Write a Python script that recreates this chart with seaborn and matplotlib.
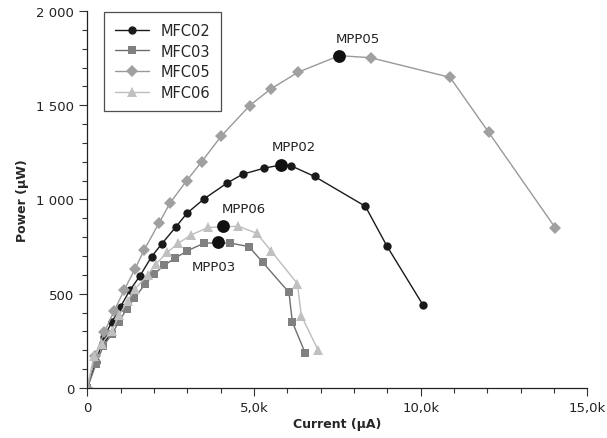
import matplotlib
matplotlib.use("Agg")
import matplotlib.pyplot as plt
import matplotlib.ticker as mticker
import seaborn as sns
import pandas as pd

# current (uA) and power (uW) per cell
mfc02_i = [0, 260, 500, 740, 1000, 1280, 1570, 1930, 2230, 2650, 2990, 3500,
           4200, 4660, 5300, 5800, 6120, 6820, 8340, 8990, 10070]
mfc02_p = [0, 140, 271, 350, 432, 520, 592, 697, 764, 853, 927, 1003,
           1088, 1134, 1166, 1183, 1178, 1122, 964, 752, 440]

mfc03_i = [0, 260, 480, 740, 950, 1180, 1410, 1730, 2000, 2300, 2630, 2990,
           3510, 4280, 4850, 5260, 6050, 6150, 6540]
mfc03_p = [0, 127, 224, 286, 352, 419, 476, 550, 603, 651, 688, 727,
           769, 769, 750, 667, 507, 350, 184]

mfc05_i = [0, 230, 510, 810, 1110, 1430, 1710, 2150, 2480, 2980, 3430, 4010,
           4870, 5500, 6320, 7560, 8500, 10880, 12040, 14040]
mfc05_p = [0, 171, 296, 410, 521, 631, 734, 874, 981, 1100, 1200, 1335,
           1498, 1586, 1675, 1763, 1752, 1648, 1356, 849]

mfc06_i = [0, 200, 430, 730, 960, 1210, 1430, 1810, 2060, 2400, 2730, 3110,
           3630, 4530, 5080, 5510, 6300, 6420, 6920]
mfc06_p = [0, 171, 233, 304, 387, 463, 525, 599, 658, 720, 768, 812,
           852, 858, 821, 728, 554, 384, 202]

# maximum power points
mpp_names = ["MPP05", "MPP02", "MPP06", "MPP03"]
mpp_i = [7560, 5800, 4060, 3910]
mpp_p = [1763, 1183, 859, 773]

series = [
    ("MFC02", mfc02_i, mfc02_p, "#1a1a1a", "#1a1a1a", "o", 6),
    ("MFC03", mfc03_i, mfc03_p, "#6e6e6e", "#808080", "s", 6),
    ("MFC05", mfc05_i, mfc05_p, "#999999", "#a0a0a0", "D", 6),
    ("MFC06", mfc06_i, mfc06_p, "#bdbdbd", "#c0c0c0", "^", 7),
]

sns.set_style("ticks")
plt.rcParams["font.family"] = ["DejaVu Sans"]

fig, ax = plt.subplots(figsize=(6.07, 4.39), dpi=100)
fig.subplots_adjust(left=0.1438, right=0.9677, top=0.9727, bottom=0.1139)

for name, xs, ys, lc, mc, mk, ms in series:
    df = pd.DataFrame({"Current": xs, "Power": ys})
    sns.lineplot(data=df, x="Current", y="Power", sort=False, estimator=None,
                 color=lc, marker=mk, markersize=ms, markerfacecolor=mc,
                 markeredgewidth=0, linewidth=1, label=name, ax=ax)

mpp = pd.DataFrame({"name": mpp_names, "Current": mpp_i, "Power": mpp_p})
sns.scatterplot(data=mpp, x="Current", y="Power", color="#111111", s=85,
                linewidth=0, zorder=5, ax=ax, legend=False)

offsets = {"MPP05": (13, 12.5), "MPP02": (9.5, 13), "MPP06": (15, 13),
           "MPP03": (-2.5, -17.5)}
for _, r in mpp.iterrows():
    ax.annotate(r["name"], (r["Current"], r["Power"]),
                xytext=offsets[r["name"]], textcoords="offset points",
                ha="center", va="center", fontsize=9.5, color="#222222")

ax.set_xlim(0, 15000)
ax.set_ylim(0, 2000)
ax.xaxis.set_major_locator(mticker.MultipleLocator(5000))
ax.xaxis.set_minor_locator(mticker.MultipleLocator(1000))
ax.yaxis.set_major_locator(mticker.MultipleLocator(500))
ax.yaxis.set_minor_locator(mticker.MultipleLocator(100))
ax.xaxis.set_major_formatter(mticker.FuncFormatter(
    lambda v, p: "0" if v == 0 else f"{v/1000:.1f}k".replace(".", ",")))
ax.yaxis.set_major_formatter(mticker.FuncFormatter(
    lambda v, p: f"{int(v):,}".replace(",", " ")))
ax.tick_params(which="major", length=6, width=0.8, colors="#333333",
               labelsize=9.5, labelcolor="#222222")
ax.tick_params(which="minor", length=3.5, width=0.8, colors="#333333")
for s in ["left", "bottom"]:
    ax.spines[s].set_color("#222222")
    ax.spines[s].set_linewidth(0.9)
sns.despine(ax=ax)

ax.set_xlabel("Current (µA)", fontsize=9, fontweight="bold", labelpad=2)
ax.set_ylabel("Power (µW)", fontsize=9, fontweight="bold", labelpad=5)

leg = ax.legend(loc="upper left", bbox_to_anchor=(0.034, 0.997),
                frameon=True, fancybox=False, fontsize=10.5, handlelength=2.3,
                borderpad=0.75, labelspacing=0.38, handletextpad=0.8,
                borderaxespad=0)
leg.get_frame().set_edgecolor("#222222")
leg.get_frame().set_linewidth(0.9)

fig.savefig("out.png", dpi=100)
